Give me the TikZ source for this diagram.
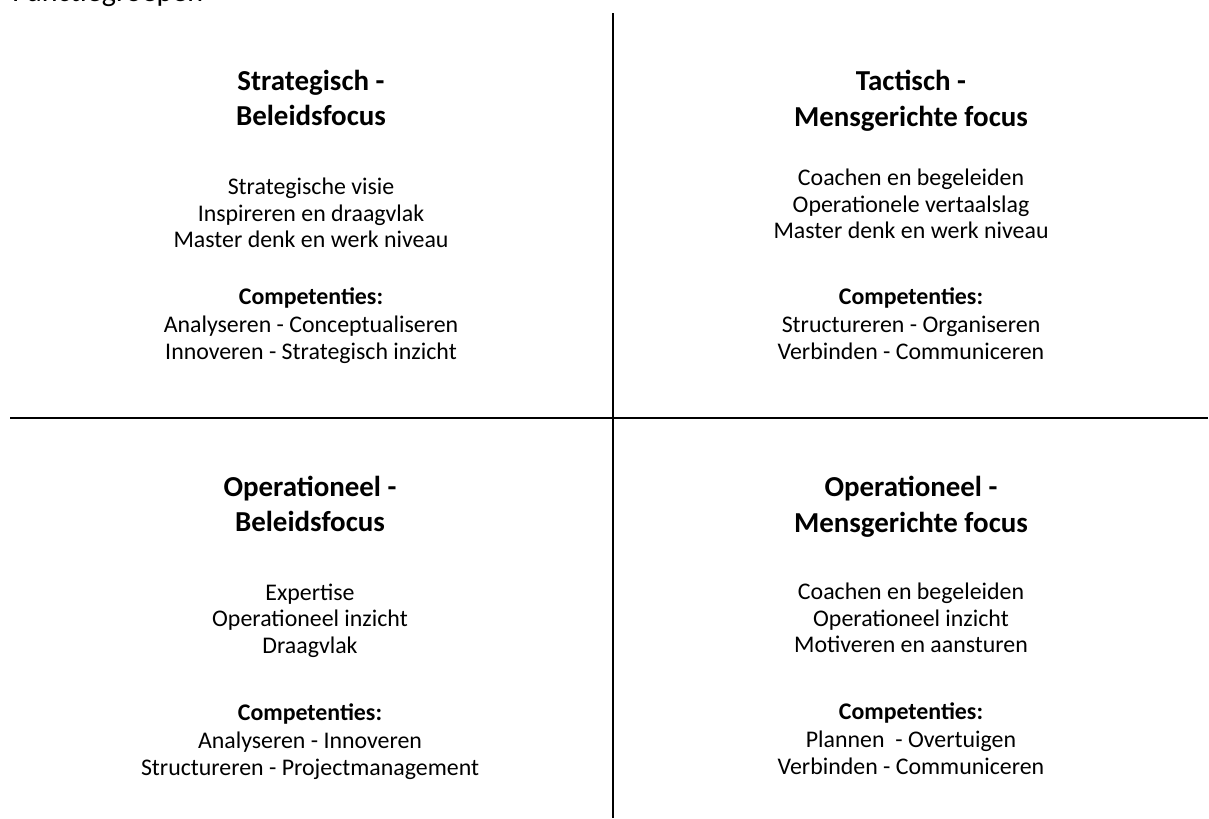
\documentclass[tikz,border=0pt]{standalone}
\usepackage{fontspec}
\setmainfont{Carlito}
\begin{document}
\begin{tikzpicture}[x=0.75pt,y=-0.75pt,
  divider/.style={line width=1.5pt,black},
  bodytxt/.style={anchor=base,inner sep=0pt,font=\fontsize{17.9}{21}\selectfont},
  comptxt/.style={anchor=base,inner sep=0pt,font=\fontsize{17.9}{21}\selectfont\bfseries},
  headtxt/.style={anchor=base,inner sep=0pt,font=\fontsize{21.7}{26}\selectfont\bfseries},
  titletxt/.style={anchor=base west,inner sep=0pt,font=\fontsize{22.5}{26}\selectfont}]
\useasboundingbox (0,0) rectangle (1209,818);
\fill[white] (0,0) rectangle (1209,818);
% title (cut off at the top)
\node[titletxt] (title) at (12,1.5) {Functiegroepen};
% dividers
\coordinate (vtop) at (613,13);
\coordinate (vbot) at (613,818);
\coordinate (hleft) at (10,417.7);
\coordinate (hright) at (1208,417.7);
\draw[divider] (vtop) -- (vbot);
\draw[divider] (hleft) -- (hright);
% top-left
\node[headtxt] (tlh1) at (311,90.5) {Strategisch -};
\node[headtxt] (tlh2) at (311,125.7) {Beleidsfocus};
\node[bodytxt] (tlb1) at (311,194.3) {Strategische visie};
\node[bodytxt] (tlb2) at (311,221) {Inspireren en draagvlak};
\node[bodytxt] (tlb3) at (311,247.7) {Master denk en werk niveau};
\node[comptxt] (tlc0) at (311,304.3) {Competenties:};
\node[bodytxt] (tlc1) at (311,332.7) {Analyseren - Conceptualiseren};
\node[bodytxt] (tlc2) at (311,359.3) {Innoveren - Strategisch inzicht};
% top-right
\node[headtxt] (trh1) at (911,90) {Tactisch -};
\node[headtxt] (trh2) at (911,126) {Mensgerichte focus};
\node[bodytxt] (trb1) at (911,185.3) {Coachen en begeleiden};
\node[bodytxt] (trb2) at (911,212) {Operationele vertaalslag};
\node[bodytxt] (trb3) at (911,238.7) {Master denk en werk niveau};
\node[comptxt] (trc0) at (911,304.3) {Competenties:};
\node[bodytxt] (trc1) at (911,332.7) {Structureren - Organiseren};
\node[bodytxt] (trc2) at (911,359.3) {Verbinden - Communiceren};
% bottom-left
\node[headtxt] (blh1) at (310,496) {Operationeel -};
\node[headtxt] (blh2) at (310,531.7) {Beleidsfocus};
\node[bodytxt] (blb1) at (310,600) {Expertise};
\node[bodytxt] (blb2) at (310,626.7) {Operationeel inzicht};
\node[bodytxt] (blb3) at (310,653.3) {Draagvlak};
\node[comptxt] (blc0) at (310,720) {Competenties:};
\node[bodytxt] (blc1) at (310,748.4) {Analyseren - Innoveren};
\node[bodytxt] (blc2) at (310,775) {Structureren - Projectmanagement};
% bottom-right
\node[headtxt] (brh1) at (911,496) {Operationeel -};
\node[headtxt] (brh2) at (911,532) {Mensgerichte focus};
\node[bodytxt] (brb1) at (911,599.3) {Coachen en begeleiden};
\node[bodytxt] (brb2) at (911,626) {Operationeel inzicht};
\node[bodytxt] (brb3) at (911,652.7) {Motiveren en aansturen};
\node[comptxt] (brc0) at (911,719.5) {Competenties:};
\node[bodytxt] (brc1) at (911,747.9) {Plannen~ - Overtuigen};
\node[bodytxt] (brc2) at (911,774.5) {Verbinden - Communiceren};
\end{tikzpicture}
\end{document}
